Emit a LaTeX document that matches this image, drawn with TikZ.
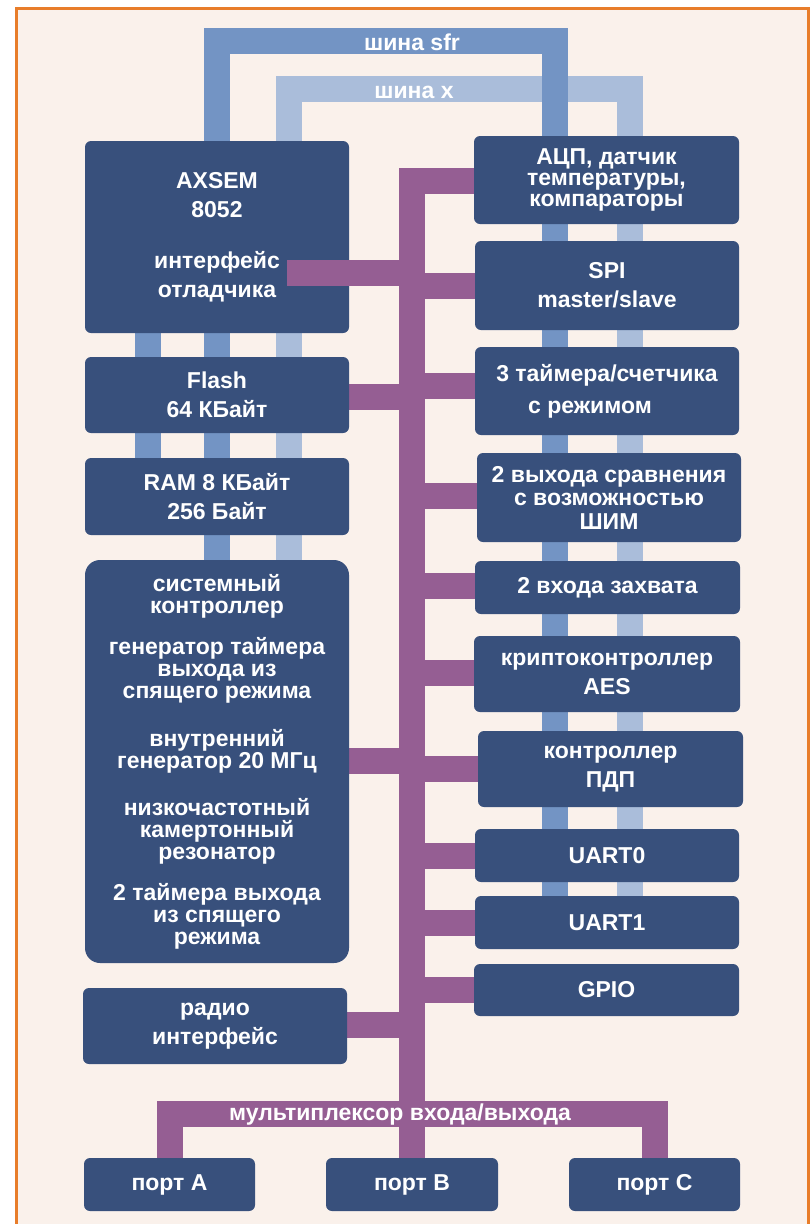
\documentclass[tikz,border=0pt]{standalone}
\usepackage{fontspec}
\setmainfont{Liberation Sans}
\usepackage{tikz}
\usetikzlibrary{backgrounds}

\definecolor{boxblue}{HTML}{38507C}
\definecolor{sfrblue}{HTML}{7394C4}
\definecolor{xblue}{HTML}{AABDDA}
\definecolor{muxviolet}{HTML}{955E93}
\definecolor{paper}{HTML}{FAF1EB}
\definecolor{frameorange}{HTML}{E87D2A}

\begin{document}
\begin{tikzpicture}[
  x=1pt, y=-1pt,
  % Unit blocks
  blk/.style={rectangle, rounded corners=6pt, fill=boxblue, text=white, align=center,
    inner sep=0pt, minimum width=264pt, font=\fontsize{23}{29}\selectfont\bfseries},
  % Buses (wide bands)
  sfrbus/.style={line width=26pt, draw=sfrblue, line join=miter},
  xbus/.style={line width=26pt, draw=xblue, line join=miter},
  mbus/.style={line width=26pt, draw=muxviolet, line join=miter},
  % Bus labels
  buslbl/.style={text=white, inner sep=0pt, font=\fontsize{23}{28}\selectfont\bfseries}
]
\useasboundingbox (0,0) rectangle (811,1224);

%% Left column
\node[blk, minimum height=192pt] (axsem) at (217,237)
  {AXSEM\\8052\\[22pt]интерфейс\\отладчика};
\node[blk, minimum height=76pt] (flash) at (217,395) {Flash\\64 КБайт};
\node[blk, minimum height=77pt] (ram) at (217,496.5) {RAM 8 КБайт\\256 Байт};
\node[blk, rounded corners=15pt, minimum height=403pt,
  font=\fontsize{23}{22}\selectfont\bfseries] (sysctl) at (217,761.5)
  {системный\\контроллер\\[19pt]генератор таймера\\выхода из\\спящего режима\\[26pt]%
   внутренний\\генератор 20 МГц\\[25pt]низкочастотный\\камертонный\\резонатор\\[19pt]%
   2 таймера выхода\\из спящего\\режима};
\node[blk, minimum height=76pt] (radio) at (215,1026) {радио\\интерфейс};

%% Right column
\node[blk, minimum width=265pt, minimum height=88pt,
  font=\fontsize{23}{21}\selectfont\bfseries] (adc) at (606.5,180)
  {АЦП, датчик\\температуры,\\компараторы};
\node[blk, minimum height=89pt] (spi) at (607,285.5) {SPI\\master/slave};
\node[blk, minimum height=88pt, font=\fontsize{23}{32}\selectfont\bfseries] (timers) at (607,391)
  {3 таймера/счетчика\\с режимом\hspace*{34pt}};
\node[blk, minimum height=89pt, font=\fontsize{23}{23.5}\selectfont\bfseries] (pwm) at (609,497.5)
  {2 выхода сравнения\\с возможностью\\ШИМ};
\node[blk, minimum width=265pt, minimum height=53pt] (capt) at (607.5,587.5) {2 входа захвата};
\node[blk, minimum width=266pt, minimum height=76pt] (aes) at (607,674) {криптоконтроллер\\AES};
\node[blk, minimum width=265pt, minimum height=76pt] (dma) at (610.5,769) {контроллер\\ПДП};
\node[blk, minimum height=53pt] (uart0) at (607,855.5) {UART0};
\node[blk, minimum height=53pt] (uart1) at (607,922.5) {UART1};
\node[blk, minimum width=265pt, minimum height=52pt] (gpio) at (606.5,990) {GPIO};

%% Ports
\node[blk, minimum width=171pt, minimum height=53pt] (porta) at (169.5,1184.5) {порт A};
\node[blk, minimum width=172pt, minimum height=53pt] (portb) at (412,1184.5) {порт B};
\node[blk, minimum width=171pt, minimum height=53pt] (portc) at (654.5,1184.5) {порт C};

%% Bus corner points
\coordinate (sfrL) at (217,41);
\coordinate (sfrR) at (554.5,41);
\coordinate (xL) at (289,89);
\coordinate (xR) at (629.5,89);
\coordinate (cbus) at (148,0);
\coordinate (trunk) at (411.5,180.5);
\coordinate (mux) at (412,1113.5);
\coordinate (dbg) at (287,272.5);

\begin{scope}[on background layer]
  % page and frame
  \fill[white] (0,0) rectangle (811,1224);
  \draw[frameorange, line width=3pt, fill=paper] (16,8.5) rectangle (808.5,1240);

  % x bus, then sfr bus on top of it
  \draw[xbus] (sysctl.north -| xL) -- (xL) -- (xR) -- (uart1.north -| xR);
  \draw[sfrbus] (sysctl.north -| sfrL) -- (sfrL) -- (sfrR) -- (uart1.north -| sfrR);
  \draw[sfrbus] (axsem.south -| cbus) -- (ram.north -| cbus);

  % I/O trunk and multiplexer
  \draw[mbus] (adc.west |- trunk) -- (trunk) -- (portb.north -| trunk);
  \draw[mbus] (porta.north) |- (mux) -| (portc.north);

  % stubs to the left column
  \foreach \b/\yy in {flash/397, sysctl/761, radio/1024.5}
    \draw[mbus] (\b.east |- 0,\yy) -- (trunk |- 0,\yy);
  % stubs to the right column
  \foreach \b/\yy in {spi/286, timers/386, pwm/496, capt/586, aes/672.5,
                      dma/769, uart0/855.5, uart1/922.5, gpio/990}
    \draw[mbus] (trunk |- 0,\yy) -- (\b.west |- 0,\yy);
\end{scope}

% debug interface runs into the core block
\draw[mbus] (dbg) -- (trunk |- dbg);

%% Bus labels
\node[buslbl, anchor=base] (sfrlbl) at (412,50) {шина sfr};
\node[buslbl, anchor=base] (xlbl) at (414,98) {шина x};
\node[buslbl, anchor=base] (muxlbl) at (400,1120) {мультиплексор входа/выхода};

\end{tikzpicture}
\end{document}
